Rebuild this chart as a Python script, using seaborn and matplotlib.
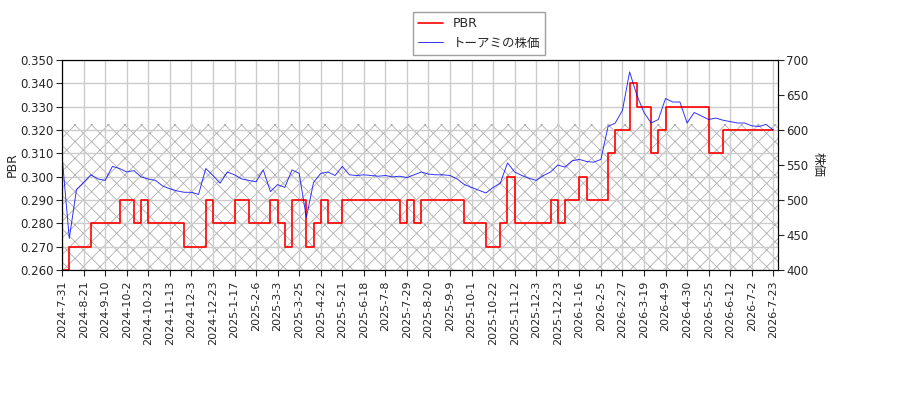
import matplotlib
matplotlib.use("Agg")
import matplotlib.pyplot as plt
import seaborn as sns
import pandas as pd

sns.set_style("white")
plt.rcParams['font.family'] = ['DejaVu Sans', 'Noto Sans CJK JP']
plt.rcParams['hatch.linewidth'] = 0.6

tick_labels = ["2024-7-31","2024-8-21","2024-9-10","2024-10-2","2024-10-23","2024-11-13","2024-12-3",
 "2024-12-23","2025-1-17","2025-2-6","2025-3-3","2025-3-25","2025-4-22","2025-5-21","2025-6-18",
 "2025-7-8","2025-7-29","2025-8-20","2025-9-9","2025-10-1","2025-10-22","2025-11-12","2025-12-3",
 "2025-12-23","2026-1-16","2026-2-5","2026-2-27","2026-3-19","2026-4-9","2026-4-30","2026-5-25",
 "2026-6-12","2026-7-2","2026-7-23"]

price = [562,445,515,525,536,530,528,548,545,540,542,533,530,528,520,516,513,511,511,508,
         545,535,524,540,536,530,528,526,543,512,522,518,543,538,475,525,538,540,535,548,
         536,535,536,535,534,535,533,534,532,536,540,537,536,536,535,530,522,518,514,510,
         518,524,553,540,535,531,528,535,540,550,547,556,558,555,554,558,605,610,628,683,
         650,625,610,615,645,640,640,610,625,620,615,617,614,612,610,610,606,605,608,600]
pbr = [0.26,0.27,0.27,0.27,0.28,0.28,0.28,0.28,0.29,0.29,0.28,0.29,0.28,0.28,0.28,0.28,0.28,0.27,0.27,0.27,
       0.29,0.28,0.28,0.28,0.29,0.29,0.28,0.28,0.28,0.29,0.28,0.27,0.29,0.29,0.27,0.28,0.29,0.28,0.28,0.29,
       0.29,0.29,0.29,0.29,0.29,0.29,0.29,0.28,0.29,0.28,0.29,0.29,0.29,0.29,0.29,0.29,0.28,0.28,0.28,0.27,
       0.27,0.28,0.30,0.28,0.28,0.28,0.28,0.28,0.29,0.28,0.29,0.29,0.30,0.29,0.29,0.29,0.31,0.32,0.32,0.34,
       0.33,0.33,0.31,0.32,0.33,0.33,0.33,0.33,0.33,0.33,0.31,0.31,0.32,0.32,0.32,0.32,0.32,0.32,0.32,0.32]

step = 5
df = pd.DataFrame({"x": [i * step for i in range(len(price))], "price": price, "pbr": pbr})

fig = plt.figure(figsize=(9, 4), dpi=100)
ax = fig.add_axes([0.069, 0.325, 0.795, 0.525])
ax2 = ax.twinx()

ax.axhspan(0.26, 0.3225, facecolor="none", edgecolor="#b0b0b0", hatch="xx", linewidth=0, zorder=0)
sns.lineplot(data=df, x="x", y="pbr", ax=ax, color="red", drawstyle="steps-post", linewidth=1.2, label="PBR", legend=False)
sns.lineplot(data=df, x="x", y="price", ax=ax2, color="blue", linewidth=0.7, alpha=0.8, label="トーアミの株価", legend=False)

ax.set_ylim(0.26, 0.35)
ax.set_yticks([0.26 + 0.01 * k for k in range(10)])
ax.set_yticklabels([f"{0.26 + 0.01 * k:.3f}" for k in range(10)])
ax2.set_ylim(400, 700)
ax2.set_yticks(range(400, 701, 50))
ax.set_xlim(0, 498)
ax.set_xticks([15 * k for k in range(len(tick_labels))])
ax.set_xticklabels(tick_labels, rotation=90, fontsize=8)
ax.tick_params(axis="y", labelsize=8.5, left=True, length=4, pad=2)
ax2.tick_params(axis="y", labelsize=8.5, right=True, length=4, pad=2)
ax.tick_params(axis="x", bottom=True, length=4)
ax.grid(True, color="#cccccc", linewidth=1)
ax.set_xlabel("")
ax.set_ylabel("PBR", fontsize=9, labelpad=1)
ax2.set_ylabel("株価", fontsize=9, rotation=270, labelpad=12)
for a in (ax, ax2):
    for s in a.spines.values():
        s.set_color("black")

h1, l1 = ax.get_legend_handles_labels()
h2, l2 = ax2.get_legend_handles_labels()
fig.legend(h1 + h2, l1 + l2, loc="upper center", bbox_to_anchor=(0.532, 0.985), fontsize=9, frameon=True, fancybox=False, edgecolor="#888888")

fig.savefig("out.png", dpi=100)
